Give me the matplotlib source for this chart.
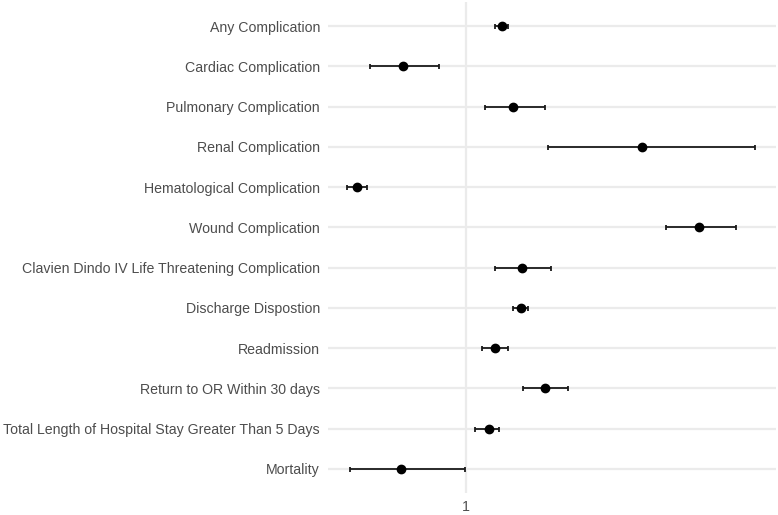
import matplotlib
matplotlib.use('Agg')
import matplotlib.pyplot as plt
import numpy as np

outcomes = ['Any Complication', 'Cardiac Complication', 'Pulmonary Complication',
            'Renal Complication', 'Hematological Complication', 'Wound Complication',
            'Clavien Dindo IV Life Threatening Complication', 'Discharge Dispostion',
            'Readmission', 'Return to OR Within 30 days',
            'Total Length of Hospital Stay Greater Than 5 Days', 'Mortality']
odds_ratio = [1.11, 0.81, 1.145, 1.535, 0.67, 1.71, 1.17, 1.167, 1.09, 1.24, 1.07, 0.805]
ci_low = [1.09, 0.71, 1.06, 1.25, 0.64, 1.61, 1.09, 1.145, 1.05, 1.175, 1.03, 0.65]
ci_high = [1.13, 0.92, 1.24, 1.88, 0.70, 1.82, 1.26, 1.19, 1.13, 1.31, 1.10, 0.997]

plt.rcParams['font.family'] = ['Liberation Sans', 'DejaVu Sans']

fig = plt.figure(figsize=(7.78, 5.15), dpi=100)
ax = fig.add_axes([0.422, 0.0427, 0.5755, 0.9533])

ypos = np.arange(len(outcomes))[::-1]
for y in ypos:
    ax.axhline(y, color='#EBEBEB', lw=1.6, zorder=0)
ax.axvline(1, color='#EBEBEB', lw=1.6, zorder=0)

or_ = np.array(odds_ratio)
err = [or_ - np.array(ci_low), np.array(ci_high) - or_]
ax.errorbar(or_, ypos, xerr=err, fmt='o', color='black', ecolor='#1A1A1A', ms=6, lw=1.3,
            capsize=1.8, capthick=1.3, zorder=3)

ax.set_xlim(0.583, 1.943)
ax.set_ylim(-0.6, len(outcomes) - 0.4)
ax.set_xticks([1])
ax.set_xticklabels(['1'])
ax.set_yticks(ypos)
ax.set_yticklabels(outcomes)
ax.tick_params(axis='both', length=0, labelsize=10.2, labelcolor='#4D4D4D')
ax.tick_params(axis='y', pad=6)
ax.tick_params(axis='x', pad=5)
for s in ax.spines.values():
    s.set_visible(False)

plt.savefig('out.png', dpi=100)
